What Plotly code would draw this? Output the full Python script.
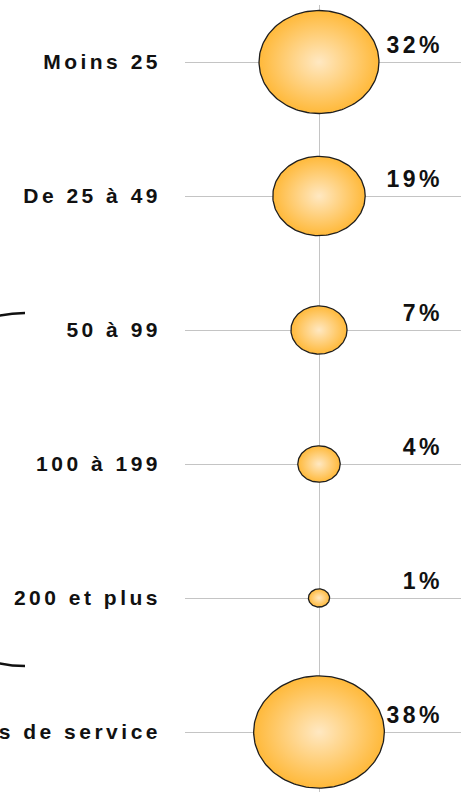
import numpy as np
import plotly.graph_objects as go

# ---- data ----
categories = ["Moins 25", "De 25 à 49", "50 à 99", "100 à 199", "200 et plus", "Sociétés de service"]
shares = [32, 19, 7, 4, 1, 38]
share_labels = ["32%", "19%", "7%", "4%", "1%", "38%"]

# ---- layout geometry ----
W, H = 461, 792
ML, MR, MT, MB = 185, 0, 5, 0
plot_w = W - ML - MR
plot_h = H - MT - MB
row_px = 134.0
first_row_px = 62 - MT
y_top = -first_row_px / row_px
y_bot = y_top + plot_h / row_px
x_center = 134
label_x = 258

# bubble scale (area proportional to value, slightly elliptical)
kx = 10.6            # px per sqrt(value), half width
ky = 9.1 / row_px    # y units per sqrt(value), half height

grid_col = "#C4C4C4"
fig = go.Figure()

t = np.linspace(0, 2 * np.pi, 161)
for i, v in enumerate(shares):
    rx = kx * np.sqrt(v)
    ry = ky * np.sqrt(v)
    fig.add_trace(go.Scatter(
        x=x_center + rx * np.cos(t),
        y=i + ry * np.sin(t),
        mode="lines", fill="toself",
        line=dict(color="#1E1E1E", width=1.3),
        fillgradient=dict(type="radial",
                          colorscale=[[0, "#FFE8C2"], [1, "#FFB93A"]]),
        hoverinfo="skip", showlegend=False,
    ))

fig.add_trace(go.Scatter(
    x=[label_x] * len(shares),
    y=[i - 15 / row_px for i in range(len(shares))],
    mode="text", text=["<b>%s</b>" % s for s in share_labels],
    textposition="middle left",
    textfont=dict(family="Liberation Sans, Arial, sans-serif", size=23,
                  color="#111111"),
    cliponaxis=False, hoverinfo="skip", showlegend=False,
))

def px2paper(px, py):
    return (px - ML) / plot_w, (H - MB - py) / plot_h

pts = [(25, 313), (-150, 313), (-150, 666), (25, 666)]
pp = [px2paper(*p) for p in pts]
path = "M {:.4f},{:.4f} C {:.4f},{:.4f} {:.4f},{:.4f} {:.4f},{:.4f}".format(
    pp[0][0], pp[0][1], pp[1][0], pp[1][1], pp[2][0], pp[2][1], pp[3][0], pp[3][1])

fig.update_layout(
    width=W, height=H,
    margin=dict(l=ML, r=MR, t=MT, b=MB, pad=0),
    paper_bgcolor="white", plot_bgcolor="white",
    shapes=[dict(type="path", xref="paper", yref="paper", path=path,
                 line=dict(color="#111111", width=2.4))],
    xaxis=dict(range=[0, plot_w], tickvals=[x_center], showticklabels=False,
               showgrid=True, gridcolor=grid_col, gridwidth=1.2,
               zeroline=False, showline=False, fixedrange=True,
               automargin=False),
    yaxis=dict(range=[y_bot, y_top], tickvals=list(range(len(categories))),
               ticktext=["<b>%s</b>" % c for c in categories],
               showgrid=True, gridcolor=grid_col,
               gridwidth=1.2, zeroline=False, showline=False, ticks="",
               ticklabelstandoff=23, automargin=False,
               tickfont=dict(family="Liberation Sans, Arial, sans-serif",
                             size=21, color="#111111"),
               fixedrange=True),
)

css = ("var s=document.createElement('style');"
       "s.textContent='.ytick text{letter-spacing:3.5px;font-weight:bold}"
       ".textpoint text{letter-spacing:3.5px;font-weight:bold}';"
       "document.head.appendChild(s);")
fig.write_html("out.html", post_script=css, config={"displayModeBar": False})
